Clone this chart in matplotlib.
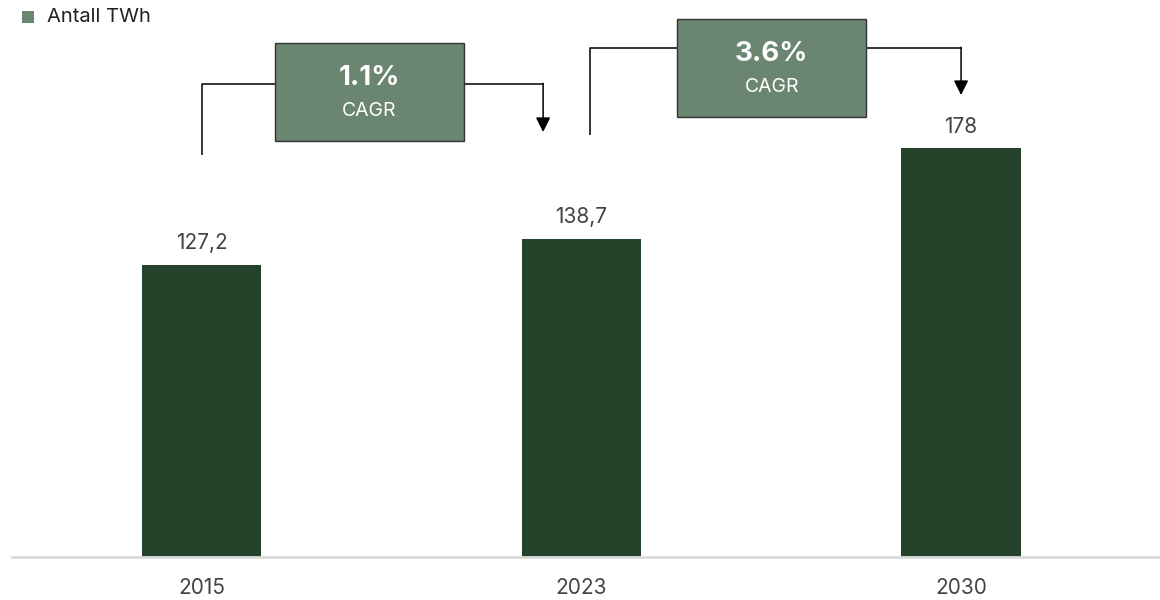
import matplotlib.pyplot as plt
from matplotlib.patches import Rectangle

plt.rcParams['font.family'] = ['Inter', 'DejaVu Sans']

# Data
years = ["2015", "2023", "2030"]
values = [127.2, 138.7, 178]
value_labels = ["127,2", "138,7", "178"]
cagr_labels = ["1.1%", "3.6%"]

bar_color = "#24432a"
box_color = "#6a8570"
text_color = "#444444"

fig = plt.figure(figsize=(11.6, 6), dpi=100)
ax = fig.add_axes([12 / 1160, 43 / 600, 1 - 12 / 1160, 557 / 600])

x = list(range(len(years)))
ax.bar(x, values, width=0.314, color=bar_color, zorder=2)
ax.set_xlim(-0.5, 2.524)
ax.set_ylim(0, 242.6)

for xi, v, lab in zip(x, values, value_labels):
    ax.text(xi, v + 9.5, lab, ha="center", va="center", fontsize=15, color=text_color)

# Axis styling
for s in ["top", "right", "left"]:
    ax.spines[s].set_visible(False)
ax.spines["bottom"].set_color("#d9d9d9")
ax.spines["bottom"].set_linewidth(2)
ax.set_yticks([])
ax.set_xticks(x)
ax.set_xticklabels(years, fontsize=15, color=text_color)
ax.tick_params(axis="x", length=0, pad=15)

# CAGR annotations: (box x0, box x1, box y0, box y1, left x, left bottom, connector y, arrow x, arrow tip)
annots = [
    (0.192, 0.690, 181.2, 223.9, 0.0, 175.1, 206.0, 0.899, 185.1),
    (1.252, 1.750, 191.6, 234.3, 1.022, 183.8, 221.7, 2.0, 201.2),
]
for (bx0, bx1, by0, by1, lx, lb, cy, axx, tip), pct in zip(annots, cagr_labels):
    ax.add_patch(Rectangle((bx0, by0), bx1 - bx0, by1 - by0, facecolor=box_color,
                           edgecolor="#333333", linewidth=1, zorder=3))
    ax.plot([lx, lx, bx0], [lb, cy, cy], color="black", lw=1.1, zorder=2,
            solid_capstyle="butt")
    ax.plot([bx1, axx], [cy, cy], color="black", lw=1.1, zorder=2)
    ax.annotate("", xy=(axx, tip), xytext=(axx, cy + 0.3),
                arrowprops=dict(arrowstyle="-|>", color="black", lw=1.1,
                                mutation_scale=22, shrinkA=0, shrinkB=0))
    bc = (bx0 + bx1) / 2
    h = by1 - by0
    ax.text(bc, by0 + h * 0.64, pct, ha="center", va="center", fontsize=20,
            fontweight="bold", color="white", zorder=4)
    ax.text(bc, by0 + h * 0.31, "CAGR", ha="center", va="center", fontsize=14,
            color="white", zorder=4)

# Legend
fig.patches.append(Rectangle((22 / 1160, 1 - 23 / 600), 12 / 1160, 12 / 600,
                             transform=fig.transFigure, facecolor=box_color,
                             edgecolor="none"))
fig.text(47 / 1160, 1 - 17 / 600, "Antall TWh", ha="left", va="center",
         fontsize=14.5, color="#222222")

fig.savefig("out.png", dpi=100)
